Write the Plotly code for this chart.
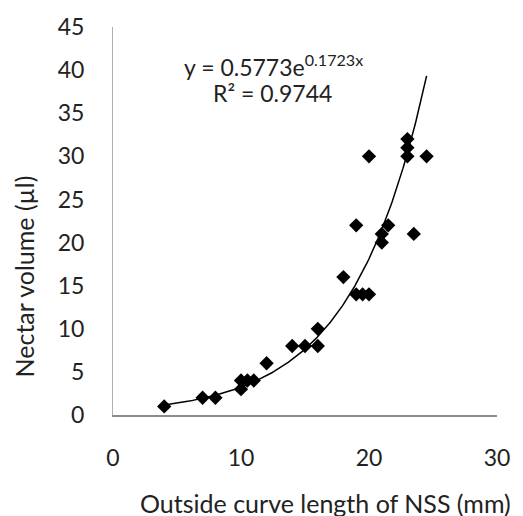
import numpy as np
import plotly.graph_objects as go

# measured points: outside curve length of NSS (mm) vs nectar volume (µl)
nss_length = [4, 7, 8, 10, 10, 10.5, 11, 12, 14, 15, 16, 16, 18, 19, 19.5, 20,
              19, 20, 21, 21, 21.5, 23, 23, 23, 24.5, 23.5]
nectar_vol = [1, 2, 2, 3, 4, 4, 4, 6, 8, 8, 8, 10, 16, 14, 14, 14,
              22, 30, 20, 21, 22, 32, 31, 30, 30, 21]

# exponential trendline coefficients shown on the chart
fit_a = 0.5773
fit_b = 0.1723
fit_r2 = 0.9744

x_ticks = [0, 10, 20, 30]
y_ticks = [0, 5, 10, 15, 20, 25, 30, 35, 40, 45]

FONT = "Lato"
W, H = 523, 516
L, R, T, B = 113, 26, 23, 101

xs = np.linspace(min(nss_length), max(nss_length), 200)
ys = fit_a * np.exp(fit_b * xs)

fig = go.Figure()
fig.add_trace(go.Scatter(x=xs, y=ys, mode="lines",
                         line=dict(color="black", width=1.5),
                         hoverinfo="skip", showlegend=False))
fig.add_trace(go.Scatter(x=nss_length, y=nectar_vol, mode="markers",
                         marker=dict(symbol="diamond", size=11, color="black"),
                         showlegend=False))


def px_ann(text, px, py, size, angle=0):
    # annotation placed by page pixel position (centre)
    return dict(text=text, xref="paper", yref="paper",
                x=(px - L) / (W - L - R), y=1 - (py - T) / (H - T - B),
                xanchor="center", yanchor="middle", showarrow=False,
                textangle=angle, font=dict(size=size))


fig.update_layout(
    width=W, height=H,
    margin=dict(l=L, r=R, t=T, b=B),
    plot_bgcolor="white", paper_bgcolor="white",
    font=dict(family=FONT, size=23, color="#222"),
    xaxis=dict(range=[0, 30], tickvals=x_ticks, showgrid=False, zeroline=False,
               showline=True, linecolor="#8c8c8c", linewidth=1.5,
               ticks="outside", ticklen=22, tickcolor="rgba(0,0,0,0)"),
    yaxis=dict(range=[0, 45], tickvals=y_ticks, showgrid=False, zeroline=False,
               showline=True, linecolor="#b0b0b0", linewidth=1,
               ticks="outside", ticklen=23, tickcolor="rgba(0,0,0,0)"),
    annotations=[
        px_ann(f"y = {fit_a}e<sup>{fit_b}x</sup>", 273, 62, 23),
        px_ann(f"R² = {fit_r2}", 272, 90, 23),
        px_ann("Outside curve length of NSS (mm)", 325, 504, 25),
        px_ann("Nectar volume (µl)", 24, 275, 25, angle=-90),
    ],
)

fig.write_html("out.html", config={"displayModeBar": False},
               post_script="document.body.style.margin='0';")
